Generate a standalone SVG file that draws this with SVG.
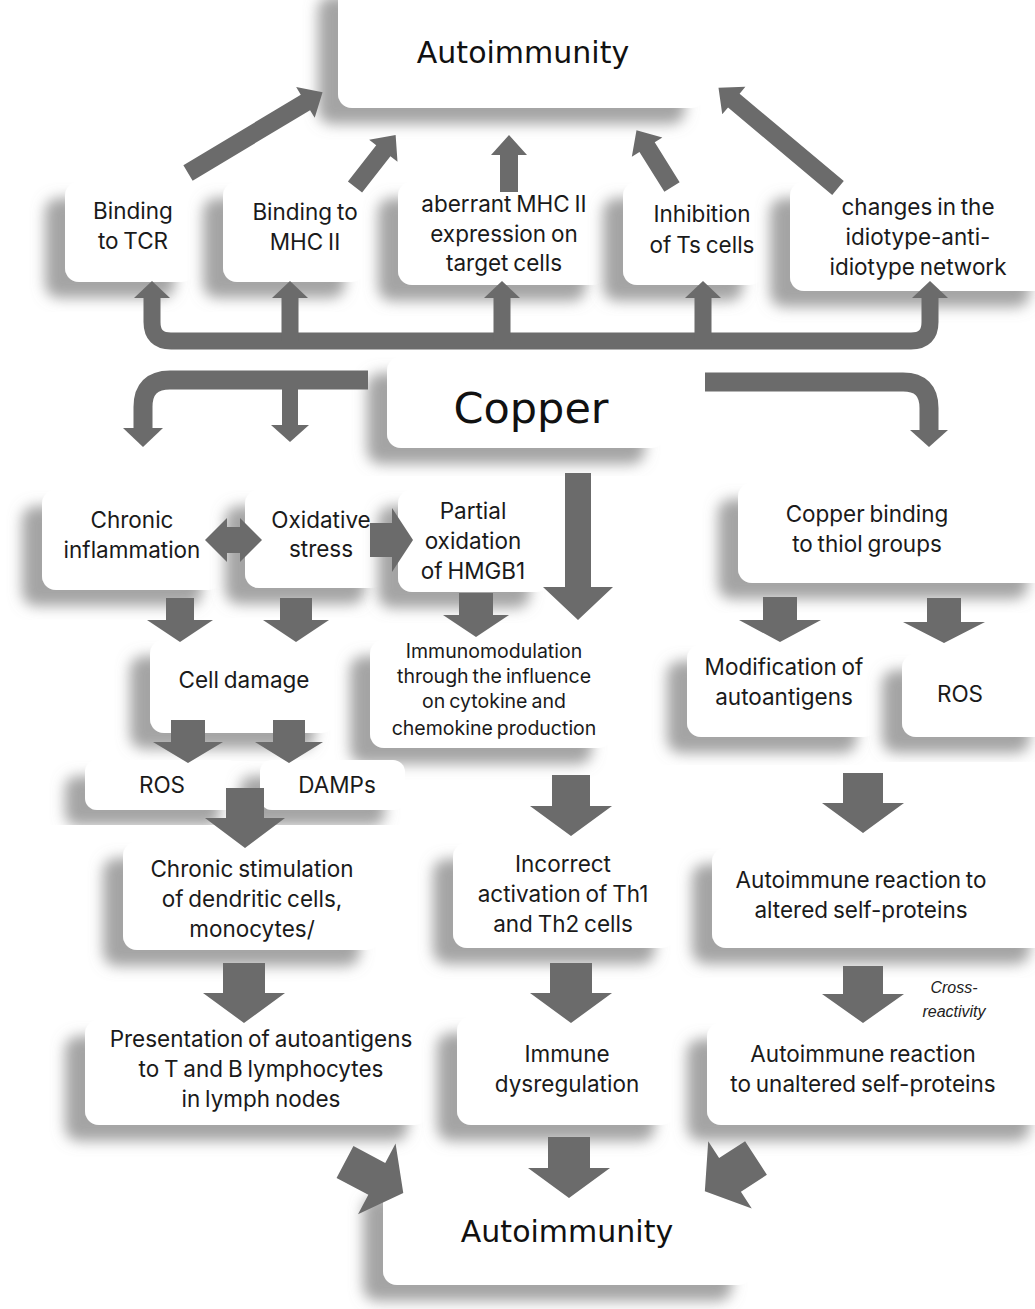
<svg xmlns="http://www.w3.org/2000/svg" width="1035" height="1309" viewBox="0 0 1035 1309">
<defs>
<filter id="sh" x="-30%" y="-30%" width="160%" height="160%">
<feDropShadow dx="-20" dy="16" stdDeviation="7" flood-color="#8a8a8a" flood-opacity="0.78"/>
</filter>
<style>
.box{fill:#fff;filter:url(#sh)}
.t{font-family:Inter,"Noto Sans",sans-serif;font-size:22.5px;fill:#1a1a1a;text-anchor:middle;word-spacing:-1.5px}
.s{font-size:19.5px}
.big{font-family:"DejaVu Sans",Verdana,sans-serif;fill:#111;text-anchor:middle}
.cr{font-family:"Liberation Sans",Arial,sans-serif;font-style:italic;font-size:16px;fill:#222;text-anchor:middle}
.ar{fill:#6b6b6b}
.ln{fill:none;stroke:#6b6b6b;stroke-linecap:butt}
</style>
</defs>
<rect width="1035" height="1309" fill="#fff"/>

<g id="nodes">
<g id="n-auto-top"><rect class="box" x="338" y="-20" width="367" height="128" rx="14"/><text class="big" x="523" y="63" font-size="30">Autoimmunity</text></g>
<g id="n-tcr"><rect class="box" x="65" y="182" width="130" height="100" rx="14"/><text class="t" x="133" y="219">Binding</text><text class="t" x="133" y="249">to TCR</text></g>
<g id="n-mhc"><rect class="box" x="223" y="182" width="142" height="100" rx="14"/><text class="t" x="305" y="220">Binding to</text><text class="t" x="305" y="250">MHC II</text></g>
<g id="n-aberrant"><rect class="box" x="398" y="182" width="208" height="103" rx="14"/><text class="t" x="504" y="212">aberrant MHC II</text><text class="t" x="504" y="242">expression on</text><text class="t" x="504" y="271">target cells</text></g>
<g id="n-ts"><rect class="box" x="623" y="182" width="140" height="103" rx="14"/><text class="t" x="702" y="222">Inhibition</text><text class="t" x="702" y="253">of Ts cells</text></g>
<g id="n-idio"><rect class="box" x="790" y="182" width="260" height="109" rx="14"/><text class="t" x="918" y="215">changes in the</text><text class="t" x="918" y="245">idiotype-anti-</text><text class="t" x="918" y="275">idiotype network</text></g>

<g id="n-copper"><rect class="box" x="387" y="357" width="278" height="91" rx="14"/><text class="big" x="531" y="423" font-size="43">Copper</text></g>

<g id="n-chronic"><rect class="box" x="42" y="490" width="180" height="100" rx="14"/><text class="t" x="132" y="528">Chronic</text><text class="t" x="132" y="558">inflammation</text></g>
<g id="n-oxid"><rect class="box" x="245" y="490" width="140" height="98" rx="14"/><text class="t" x="321" y="528">Oxidative</text><text class="t" x="321" y="557">stress</text></g>
<g id="n-hmgb1"><rect class="box" x="398" y="490" width="152" height="102" rx="14"/><text class="t" x="473" y="519">Partial</text><text class="t" x="473" y="549">oxidation</text><text class="t" x="473" y="579">of HMGB1</text></g>
<g id="n-thiol"><rect class="box" x="738" y="483" width="310" height="100" rx="14"/><text class="t" x="867" y="522">Copper binding</text><text class="t" x="867" y="552">to thiol groups</text></g>

<g id="n-cell"><rect class="box" x="150" y="640" width="185" height="93" rx="14"/><text class="t" x="244" y="688">Cell damage</text></g>
<g id="n-immuno"><rect class="box" x="370" y="640" width="242" height="108" rx="14"/><text class="t s" x="494" y="658">Immunomodulation</text><text class="t s" x="494" y="683">through the influence</text><text class="t s" x="494" y="708">on cytokine and</text><text class="t s" x="494" y="735">chemokine production</text></g>
<g id="n-modif"><rect class="box" x="687" y="645" width="190" height="92" rx="14"/><text class="t" x="784" y="675">Modification of</text><text class="t" x="784" y="705">autoantigens</text></g>
<g id="n-ros2"><rect class="box" x="902" y="654" width="148" height="83" rx="14"/><text class="t" x="960" y="702">ROS</text></g>

<g id="n-ros1"><rect class="box" x="85" y="760" width="155" height="50" rx="12"/><text class="t" x="162" y="793">ROS</text></g>
<g id="n-damps"><rect class="box" x="260" y="760" width="145" height="50" rx="12"/><text class="t" x="337" y="793">DAMPs</text></g>

<g id="n-stim"><rect class="box" x="123" y="842" width="257" height="108" rx="14"/><text class="t" x="252" y="877">Chronic stimulation</text><text class="t" x="252" y="907">of dendritic cells,</text><text class="t" x="252" y="937">monocytes/</text></g>
<g id="n-th"><rect class="box" x="453" y="843" width="222" height="105" rx="14"/><text class="t" x="563" y="872">Incorrect</text><text class="t" x="563" y="902">activation of Th1</text><text class="t" x="563" y="932">and Th2 cells</text></g>
<g id="n-altered"><rect class="box" x="712" y="848" width="338" height="100" rx="14"/><text class="t" x="861" y="888">Autoimmune reaction to</text><text class="t" x="861" y="918">altered self-proteins</text></g>

<g id="n-present"><rect class="box" x="85" y="1020" width="343" height="105" rx="14"/><text class="t" x="261" y="1047">Presentation of autoantigens</text><text class="t" x="261" y="1077">to T and B lymphocytes</text><text class="t" x="261" y="1107">in lymph nodes</text></g>
<g id="n-dysreg"><rect class="box" x="457" y="1017" width="218" height="108" rx="14"/><text class="t" x="567" y="1062">Immune</text><text class="t" x="567" y="1092">dysregulation</text></g>
<g id="n-unaltered"><rect class="box" x="707" y="1023" width="343" height="102" rx="14"/><text class="t" x="863" y="1062">Autoimmune reaction</text><text class="t" x="863" y="1092">to unaltered self-proteins</text></g>

<g id="n-auto-bottom"><rect class="box" x="383" y="1180" width="369" height="105" rx="14"/><text class="big" x="567" y="1242" font-size="30">Autoimmunity</text></g>
</g>

<g id="connectors">
<path class="ln" stroke-width="17" d="M152,298 V322 Q152,341 171,341 H911 Q930,341 930,322 V298"/>
<path class="ln" stroke-width="17" d="M290,341 V298 M502,341 V298 M703,341 V298"/>
<polygon class="ar" points="134,298 170,298 152,281"/>
<polygon class="ar" points="272,298 308,298 290,281"/>
<polygon class="ar" points="484,298 520,298 502,281"/>
<polygon class="ar" points="685,298 721,298 703,281"/>
<polygon class="ar" points="912,298 948,298 930,281"/>
<path class="ar" transform="translate(188,173) rotate(-31)" d="M0,-9H137V-18L157,0L137,18V9H0Z"/>
<path class="ar" transform="translate(355,187) rotate(-52)" d="M0,-9H46V-18L66,0L46,18V9H0Z"/>
<polygon class="ar" points="500,192 518,192 518,155 527,155 509,135 491,155 500,155"/>
<path class="ar" transform="translate(672,187) rotate(-122)" d="M0,-9H47V-18L67,0L47,18V9H0Z"/>
<path class="ar" transform="translate(838,188) rotate(-140)" d="M0,-9H136V-18L156,0L136,18V9H0Z"/>
<path class="ln" stroke-width="19" d="M368,380 H170 Q143,380 143,407 V428"/>
<path class="ln" stroke-width="16" d="M290,380 V425"/>
<polygon class="ar" points="123,428 163,428 143,447"/>
<polygon class="ar" points="271,425 309,425 290,442"/>
<path class="ln" stroke-width="19" d="M705,382 H903 Q929,382 929,408 V430"/>
<polygon class="ar" points="910,430 948,430 929,447"/>
<polygon class="ar" points="565,473 591,473 591,587 613,587 578,620 543,587 565,587"/>
<polygon class="ar" points="205,540 227,518 227,527 240,527 240,518 262,540 240,562 240,553 227,553 227,562"/>
<polygon class="ar" points="370,523 392,523 392,508 413,540 392,572 392,557 370,557"/>
<polygon class="ar" points="166,598 194,598 194,620 213,620 180,642 147,620 166,620"/>
<polygon class="ar" points="280,598 312,598 312,620 329,620 296,642 263,620 280,620"/>
<polygon class="ar" points="459,593 493,593 493,615 509,615 476,637 443,615 459,615"/>
<polygon class="ar" points="171,720 205,720 205,742 223,742 188,763 153,742 171,742"/>
<polygon class="ar" points="273,720 305,720 305,742 323,742 289,763 255,742 273,742"/>
<polygon class="ar" points="226,788 264,788 264,818 285,818 245,848 205,818 226,818"/>
<polygon class="ar" points="223,963 265,963 265,993 285,993 244,1023 203,993 223,993"/>
<polygon class="ar" points="552,775 590,775 590,806 612,806 571,836 530,806 552,806"/>
<polygon class="ar" points="550,963 592,963 592,993 612,993 571,1023 530,993 550,993"/>
<polygon class="ar" points="548,1137 590,1137 590,1168 610,1168 569,1198 528,1168 548,1168"/>
<polygon class="ar" points="763,597 797,597 797,620 821,620 780,642 739,620 763,620"/>
<polygon class="ar" points="927,598 961,598 961,622 985,622 944,643 903,622 927,622"/>
<polygon class="ar" points="843,773 883,773 883,803 904,803 863,833 822,803 843,803"/>
<polygon class="ar" points="843,966 883,966 883,994 904,994 863,1023 822,994 843,994"/>
<path class="ar" transform="translate(345,1162) rotate(28)" d="M0,-18H36V-40L66,0L36,40V18H0Z"/>
<path class="ar" transform="translate(756,1158) rotate(147)" d="M0,-20H31V-40L61,0L31,40V20H0Z"/>
<text class="cr" x="954" y="993">Cross-</text>
<text class="cr" x="954" y="1017">reactivity</text>
</g>
</svg>
